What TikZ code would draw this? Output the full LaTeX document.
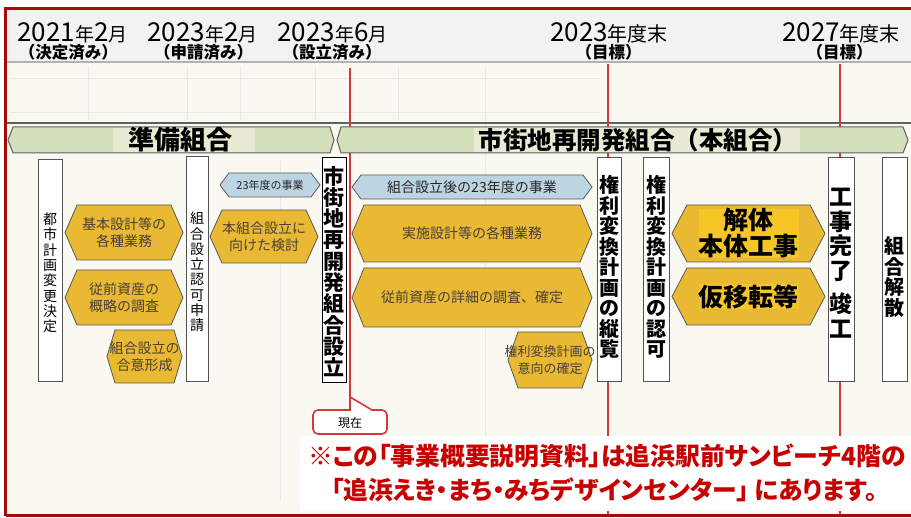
\documentclass[tikz,border=0pt]{standalone}
\usepackage{fontspec}
\setmainfont{Noto Sans CJK JP}
\newfontfamily\notefont{Noto Sans CJK JP}[RawFeature=+palt]
\definecolor{frame}{HTML}{A80A0A}
\definecolor{redline}{HTML}{D4383C}
\definecolor{gold}{HTML}{EAB934}
\definecolor{goldhl}{HTML}{F6C526}
\definecolor{bluehex}{HTML}{BDD5E2}
\definecolor{bannergreen}{HTML}{D3E0B9}
\definecolor{bannerhl}{HTML}{E8EAD4}
\definecolor{bg}{HTML}{FAF9F1}
\definecolor{hdr}{HTML}{F2F2F0}
\definecolor{notered}{HTML}{C80000}
\definecolor{hextext}{HTML}{4A4035}
\newcommand\fs[2]{\fontsize{#1}{#2}\selectfont}
\newcommand\hexa[9]{%
  \path[#1] (#3,{(#4+#6)/2}) -- (#3+#7,#4) -- (#5-#7,#4) -- (#5,{(#4+#6)/2}) -- (#5-#7,#6) -- (#3+#7,#6) -- cycle;
  \node[#8] (#2) at ({(#3+#5)/2},{(#4+#6)/2}) {#9};}
\tikzset{
  goldhex/.style={fill=gold, draw=gray!70!black, line width=0.8},
  bluehexs/.style={fill=bluehex, draw=gray!70!black, line width=0.8},
  hextxt/.style={text=hextext, align=center, inner sep=0, font=\fs{14}{17}},
  bigtxt/.style={text=black, align=center, inner sep=0, fill=goldhl, font=\bfseries\fs{25}{26}},
  vbox/.style={draw=gray!65!black, fill=white, line width=1, inner sep=0},
  vtxt/.style={align=center, inner sep=0},
  banner/.style={fill=bannergreen, draw=gray!75!black, line width=1},
  datetxt/.style={anchor=base, inner sep=0},
  subtxt/.style={anchor=base, inner sep=0, font=\bfseries\fs{16.5}{16.5}},
  rline/.style={redline, line width=1.8},
  notetxt/.style={anchor=west, inner sep=0, text=notered, font=\notefont\bfseries\fs{24.8}{24.8}},
}
\newcommand\dg{\fs{26}{26}}
\newcommand\kj{\fs{19}{19}}
\begin{document}
\begin{tikzpicture}[x=1pt,y=-1pt]
\useasboundingbox (0,0) rectangle (911,518);
\fill[white] (0,0) rectangle (911,518);
\fill[bg] (6,9) rectangle (911,518);
\fill[hdr] (6,9) rectangle (911,62);
% faint table remnants
\begin{scope}[gray!18, line width=0.6]
  \draw (10,78) -- (600,78);
  \draw (10,112) -- (600,112);
  \draw (88,66) -- (88,120);
  \draw (187,66) -- (187,120);
  \draw (240,66) -- (240,120);
  \draw (315,66) -- (315,120);
  \draw (398,66) -- (398,120);
  \draw (485,66) -- (485,500);
  \draw (280,160) -- (280,500);
\end{scope}
\draw[gray!60, line width=1.5] (6,62) -- (911,62);
\draw[gray!75!black, line width=2] (6,123) -- (911,123);
% header dates
\node[datetxt] (d1) at (72.5,42) {\dg 2021\kj 年\dg 2\kj 月};
\node[datetxt] (d2) at (202.5,42) {\dg 2023\kj 年\dg 2\kj 月};
\node[datetxt] (d3) at (332.5,42) {\dg 2023\kj 年\dg 6\kj 月};
\node[datetxt] (d4) at (609,42) {\dg 2023\fs{20}{20}年度末};
\node[datetxt] (d5) at (841,42) {\dg 2027\fs{20}{20}年度末};
\node[subtxt] (s1) at (68.5,59) {（決定済み）};
\node[subtxt] (s2) at (203.5,59) {（申請済み）};
\node[subtxt] (s3) at (332,59) {（設立済み）};
\node[subtxt] (s4) at (608.5,59) {（目標）};
\node[subtxt] (s5) at (839.5,59) {（目標）};
% red timeline lines
\coordinate (t1) at (350,68);
\coordinate (tip) at (350,397);
\coordinate (t2) at (608,64);
\coordinate (b2) at (608,515);
\coordinate (t3) at (840,64);
\coordinate (b3) at (840,515);
\draw[rline] (t1) -- (tip);
\draw[rline] (t2) -- (b2);
\draw[rline] (t3) -- (b3);
% banners
\path[banner] (8,140) -- (13,127) -- (330,127) -- (334,140) -- (330,153) -- (13,153) -- cycle;
\path[banner] (337,140) -- (341,127) -- (903,127) -- (908,140) -- (903,153) -- (341,153) -- cycle;
\fill[bannerhl] (113,128) rectangle (255,152);
\fill[bannerhl] (474,128) rectangle (800,152);
\node[inner sep=0, font=\bfseries\fs{26}{26}] (prep) at (180,140) {準備組合};
\node[inner sep=0, font=\bfseries\fs{24.5}{24.5}] (main) at (638,140) {市街地再開発組合（本組合）};
% vertical boxes
\node[vbox, minimum width=24, minimum height=222] (toshi) at (50,271) {};
\node[vtxt, font=\fs{14}{15.3}] (toshit) at (50,273) {都\\市\\計\\画\\変\\更\\決\\定};
\node[vbox, minimum width=22, minimum height=225] (shinsei) at (197,269.5) {};
\node[vtxt, font=\fs{14}{15.3}] (shinseit) at (197,272) {組\\合\\設\\立\\認\\可\\申\\請};
\node[vbox, draw=black, minimum width=24, minimum height=225] (setsu) at (334,270.5) {};
\node[vtxt, font=\bfseries\fs{21}{21.3}] (setsut) at (334,271.5) {市\\街\\地\\再\\開\\発\\組\\合\\設\\立};
\node[vbox, minimum width=24, minimum height=224] (juran) at (609,270) {};
\node[vtxt, font=\bfseries\fs{20}{20.5}] (jurant) at (609,267) {権\\利\\変\\換\\計\\画\\の\\縦\\覧};
\node[vbox, minimum width=26, minimum height=224] (ninka) at (656,270) {};
\node[vtxt, font=\bfseries\fs{20}{20.5}] (ninkat) at (656,267) {権\\利\\変\\換\\計\\画\\の\\認\\可};
\node[vbox, minimum width=26, minimum height=224] (kanryo) at (841,270) {};
\node[vtxt, font=\bfseries\fs{23}{24.5}] (kanryot) at (841,263) {工\\事\\完\\了\\[9pt]竣\\工};
\node[vbox, minimum width=25, minimum height=224] (kaisan) at (894.5,270) {};
\node[vtxt, font=\bfseries\fs{20}{20.5}] (kaisant) at (894.5,277) {組\\合\\解\\散};
% hexagons
\hexa{goldhex}{kihon}{65}{205}{183}{260}{12}{hextxt}{基本設計等の\\各種業務}
\hexa{goldhex}{juzen1}{65}{270}{183}{325}{12}{hextxt}{従前資産の\\概略の調査}
\hexa{goldhex}{goi}{107}{330}{182}{383}{8}{hextxt}{組合設立の\\合意形成}
\hexa{bluehexs}{jigyo1}{220}{173}{320}{197}{9}{hextxt, text=gray!30!black, font=\fs{11}{11}}{23年度の事業}
\hexa{goldhex}{kento}{210}{210}{318}{263}{12}{hextxt}{本組合設立に\\向けた検討}
\hexa{bluehexs}{jigyo2}{352}{175}{592}{199}{9}{hextxt, text=gray!30!black}{組合設立後の23年度の事業}
\hexa{goldhex}{jisshi}{352}{205}{592}{262}{12}{hextxt}{実施設計等の各種業務}
\hexa{goldhex}{juzen2}{352}{268}{592}{327}{12}{hextxt}{従前資産の詳細の調査、確定}
\hexa{goldhex}{iko}{508}{332}{592}{388}{10}{hextxt, font=\fs{13}{17}}{権利変換計画の\\意向の確定}
\hexa{goldhex}{kaitai}{672}{205}{825}{262}{15}{bigtxt}{解体\\本体工事}
\hexa{goldhex}{kariiten}{672}{268}{825}{325}{15}{bigtxt}{仮移転等}
% callout
\draw[redline, line width=1.6, fill=white] (350,410) -- (tip) -- (372,410) [rounded corners=5] -- (387,410) -- (387,434) -- (313,434) -- (313,410) [sharp corners] -- cycle;
\node[inner sep=0, font=\fs{12}{12}] (now) at (350,422.5) {現在};
% note
\fill[white] (300,436) rectangle (911,511);
\node[notetxt] (note1) at (308,456) {※この「事業概要説明資料」は追浜駅前サンビーチ4階の};
\node[notetxt] (note2) at (331,490) {「追浜えき・まち・みちデザインセンター」 にあります。};
% frame
\draw[frame, line width=3] (5.5,516) -- (5.5,8.5) -- (911,8.5);
\draw[frame, line width=2.5] (5.5,515.5) -- (911,515.5);
\end{tikzpicture}
\end{document}
